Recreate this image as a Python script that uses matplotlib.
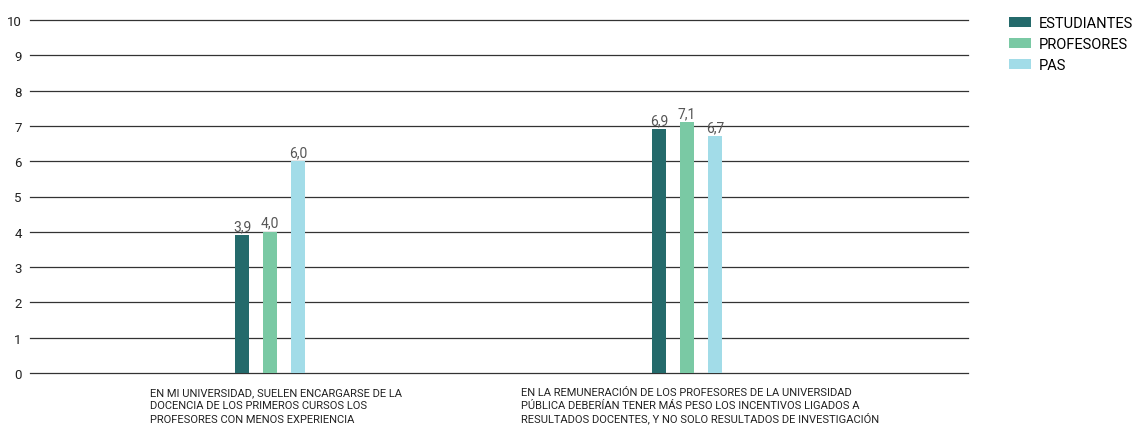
import matplotlib
matplotlib.use("Agg")
import matplotlib.pyplot as plt
from matplotlib.patches import Patch
import numpy as np

categories = [
    "EN MI UNIVERSIDAD, SUELEN ENCARGARSE DE LA\nDOCENCIA DE LOS PRIMEROS CURSOS LOS\nPROFESORES CON MENOS EXPERIENCIA",
    "EN LA REMUNERACIÓN DE LOS PROFESORES DE LA UNIVERSIDAD\nPÚBLICA DEBERÍAN TENER MÁS PESO LOS INCENTIVOS LIGADOS A\nRESULTADOS DOCENTES, Y NO SOLO RESULTADOS DE INVESTIGACIÓN",
]
series_names = ["ESTUDIANTES", "PROFESORES", "PAS"]
estudiantes = [3.9, 6.9]
profesores = [4.0, 7.1]
pas = [6.0, 6.7]
yticks = list(range(0, 11))

colors = ["#246A6B", "#7AC9A4", "#A2DCE8"]

plt.rcParams['font.family'] = ['Roboto', 'DejaVu Sans']

fig = plt.figure(figsize=(11.37, 4.27), dpi=100)
ax = fig.add_axes([30/1137, 1-374/427, 938/1137, 353/427])

x = np.arange(len(categories))
w = 0.034
off = 0.067
for i, (vals, c) in enumerate(zip([estudiantes, profesores, pas], colors)):
    bars = ax.bar(x + (i-1)*off, vals, width=w, color=c, zorder=3)
    ax.bar_label(bars, labels=[f"{v:.1f}".replace(".", ",") for v in vals],
                 padding=1.5, fontsize=10, color="#555555")

ax.set_xlim(-0.576, 1.674)
ax.set_ylim(0, 10)
ax.set_yticks(yticks)
ax.set_yticklabels([str(t) for t in yticks], fontsize=9.5, color="#222222")
ax.tick_params(axis='y', length=0, pad=6)
ax.set_xticks([])
for s in ax.spines.values():
    s.set_visible(False)
for t in yticks:
    ax.axhline(t, color="#333333", linewidth=0.9, zorder=1, clip_on=False)

label_pos = [(150-30)/938, (521-30)/938]
for lp, txt in zip(label_pos, categories):
    for k, line in enumerate(txt.split("\n")):
        ax.text(lp, -(22 + 13.3*k)/353, line, transform=ax.transAxes,
                ha='left', va='baseline', fontsize=8, color="#222222")

handles = [Patch(facecolor=c, edgecolor='none') for c in colors]
fig.legend(handles, series_names, loc='upper left',
           bbox_to_anchor=(1003/1137, 1-11/427), frameon=False,
           fontsize=10.5, handlelength=1.55, handleheight=0.7,
           handletextpad=0.5, labelspacing=0.5, borderaxespad=0)

fig.savefig("out.png", dpi=100)
